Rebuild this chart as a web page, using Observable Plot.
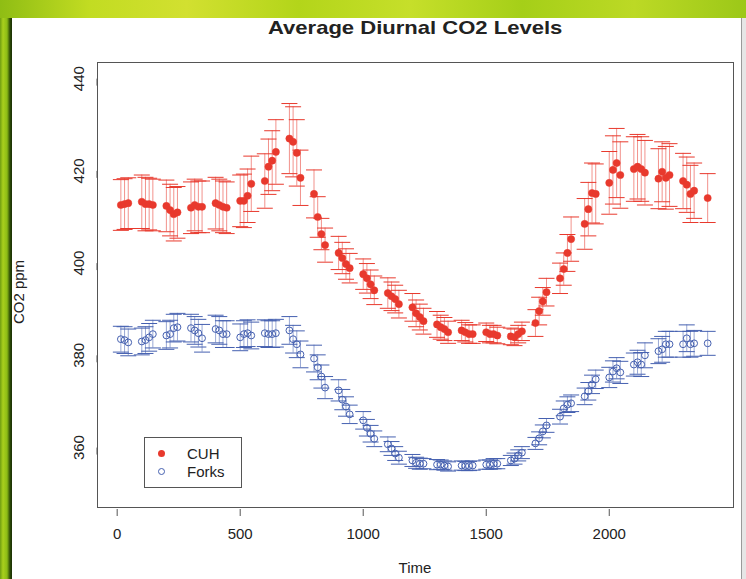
<!DOCTYPE html>
<html>
<head>
<meta charset="utf-8">
<script src="https://cdn.jsdelivr.net/npm/d3@7"></script>
<script src="https://cdn.jsdelivr.net/npm/@observablehq/plot@0.6"></script>
<style>
  html, body { margin: 0; padding: 0; }
  body { width: 746px; height: 579px; overflow: hidden; font-family: "Liberation Sans", Arial, sans-serif; }
  #page { position: relative; width: 746px; height: 579px;
    background: linear-gradient(90deg, #6f9e12 0px, #a9d01c 3px, #8cbc16 7px, #2c4a06 10px, #1a2e04 12px, #b7d61c 12px); }
  #topband { position: absolute; left: 0; top: 0; width: 746px; height: 18px;
    background: linear-gradient(90deg, #8fbd14 0%, #c2dc22 12%, #d2e030 25%, #b3d51a 40%, #c6df2a 55%, #a5cf18 70%, #bcd925 85%, #9cc818 100%); }
  #panel { position: absolute; left: 12px; top: 18px; width: 729px; height: 561px; background: #fff; border-right: 1px solid #9a9a9a; }
  #rightedge { position: absolute; left: 742px; top: 18px; width: 4px; height: 561px; background: #e6e6e6; }
  #title { position: absolute; left: 97px; width: 636px; top: 17px; text-align: center; font-weight: bold; font-size: 19px; color: #222; transform: scaleX(1.16); transform-origin: 317px 50%; }
  #chart { position: absolute; left: 0; top: 40px; }
  #xlabel { position: absolute; left: 97px; width: 636px; top: 559px; text-align: center; font-size: 15px; color: #222; }
  #ylabel { position: absolute; left: 18px; top: 292px; transform: translate(-50%, -50%) rotate(-90deg); font-size: 15px; color: #222; white-space: nowrap; }
  #legend { position: absolute; left: 144px; top: 437px; width: 96px; height: 49px; border: 1px solid #555; background: #fff; font-size: 15px; color: #222; }
  .item { position: absolute; left: 0; height: 18px; line-height: 18px; }
  .sym { position: absolute; left: 13px; top: 5px; width: 7px; height: 7px; border-radius: 50%; box-sizing: border-box; }
  .lab { position: absolute; left: 42px; top: 0; }
</style>
</head>
<body>
<div id="page">
  <div id="topband"></div>
  <div id="panel"></div>
  <div id="rightedge"></div>
  <div id="title">Average Diurnal CO2 Levels</div>
  <div id="chart"></div>
  <div id="xlabel">Time</div>
  <div id="ylabel">CO2 ppm</div>
  <div id="legend">
    <div class="item" style="top:7px"><span class="sym" style="background:#e8392d;"></span><span class="lab">CUH</span></div>
    <div class="item" style="top:25px"><span class="sym" style="border:1px solid #4560b0;"></span><span class="lab">Forks</span></div>
  </div>
</div>
<script>
// ---- data (time of day, HHMM) ----
const times = [15,30,45,
  100,115,130,145, 200,215,230,245, 300,315,330,345, 400,415,430,445,
  500,515,530,545, 600,615,630,645, 700,715,730,745, 800,815,830,845,
  900,915,930,945, 1000,1015,1030,1045, 1100,1115,1130,1145, 1200,1215,1230,1245,
  1300,1315,1330,1345, 1400,1415,1430,1445, 1500,1515,1530,1545, 1600,1615,1630,1645,
  1700,1715,1730,1745, 1800,1815,1830,1845, 1900,1915,1930,1945, 2000,2015,2030,2045,
  2100,2115,2130,2145, 2200,2215,2230,2245, 2300,2315,2330,2345, 2400];

const cuh = [412.6,412.8,413.0,
  413.3,412.8,412.8,412.6, 412.4,411.5,410.6,411.0, 412.0,412.6,412.2,412.2, 413.0,412.6,412.2,412.0,
  413.5,413.5,414.6,417.2, 417.8,420.9,422.2,424.1, 427.0,426.3,423.9,418.5, 415.0,410.0,406.3,403.9,
  402.2,401.1,399.8,398.9, 397.6,396.7,395.4,394.1, 393.5,392.8,392.2,391.1, 390.4,389.1,388.3,387.4,
  386.7,386.1,385.7,385.0, 385.4,385.0,384.6,384.6, 385.0,384.6,384.6,384.3, 384.1,383.9,384.6,385.2,
  387.0,389.6,391.7,393.7, 396.7,398.7,402.2,405.2, 408.5,411.7,415.2,415.0, 417.4,420.2,421.7,419.1,
  420.4,420.9,420.4,419.6, 418.3,419.8,418.5,419.1, 417.8,417.0,415.0,415.7, 414.1];

const cuhErr = [5.5,5.5,5.5,
  5.8,5.8,5.6,5.6, 5.6,5.6,5.8,5.6, 5.6,5.6,5.6,5.6, 5.6,5.6,5.6,5.6,
  5.6,5.8,5.8,6.0, 5.9,6.0,6.5,7.0, 7.6,7.6,7.2,6.0, 5.2,4.4,3.4,3.7,
  3.6,3.4,3.3,3.2, 3.3,3.2,3.1,3.1, 3.3,3.1,3.0,3.0, 3.0,2.9,2.8,2.8,
  2.8,2.6,2.5,2.4, 2.2,2.1,2.0,2.0, 2.0,1.9,1.9,1.8, 1.8,1.8,1.9,2.0,
  2.9,3.0,3.0,3.0, 3.3,3.5,4.0,4.8, 5.5,5.8,6.5,6.5, 6.8,7.4,7.5,7.2,
  7.0,7.0,7.0,7.0, 6.5,6.5,6.8,6.8, 6.0,6.0,6.2,6.0, 5.3];

const forks = [383.5,383.3,382.8,
  383.0,383.3,383.9,384.6, 384.3,384.6,385.9,386.1, 385.9,385.4,384.8,383.7, 385.7,385.4,384.6,384.6,
  383.9,384.6,384.8,384.3, 384.8,384.6,384.6,384.8, 385.4,383.5,382.4,380.2, 379.3,377.4,375.4,373.0,
  372.4,370.4,368.9,367.2, 365.9,364.3,363.0,361.9, 360.7,359.8,358.7,357.8, 357.2,356.7,356.5,356.5,
  356.3,356.3,356.1,355.9, 356.1,356.0,356.0,356.1, 356.3,356.3,356.5,356.5, 357.2,357.6,358.3,358.9,
  360.9,362.0,363.5,364.8, 366.7,368.5,369.3,369.6, 371.1,372.2,373.7,374.8, 375.2,376.5,377.2,376.3,
  378.0,378.5,378.0,380.0, 380.9,381.3,382.4,382.4, 382.4,383.7,382.4,382.6, 382.6];

const forksErr = [2.8,2.9,2.9,
  2.9,2.9,3.0,3.0, 3.0,3.0,3.0,3.0, 3.0,3.0,3.0,3.0, 3.0,3.0,2.9,2.9,
  2.9,2.9,2.9,2.9, 2.9,2.9,2.9,3.0, 3.0,3.0,2.9,2.9, 2.9,2.7,2.5,2.4,
  2.3,2.2,2.1,2.0, 1.9,1.8,1.8,1.7, 1.6,1.5,1.5,1.4, 1.3,1.2,1.2,1.1,
  1.1,1.0,1.0,1.0, 1.0,1.0,1.0,1.0, 1.0,1.0,1.1,1.1, 1.1,1.2,1.2,1.3,
  1.3,1.4,1.4,1.5, 1.6,1.6,1.7,1.8, 1.8,1.9,2.0,2.0, 2.2,2.3,2.3,2.4,
  2.5,2.6,2.6,2.7, 2.7,2.8,2.8,2.8, 2.8,2.9,2.8,2.8, 2.6];

const xTicks = [0, 500, 1000, 1500, 2000];
const yTicks = [360, 380, 400, 420, 440];

const RED = "#e8392d";
const BLUE = "#4560b0";

const rows = (vals, errs) => times.map((t, i) => ({t, v: vals[i], lo: vals[i] - errs[i], hi: vals[i] + errs[i]}));
const cuhRows = rows(cuh, cuhErr);
const forksRows = rows(forks, forksErr);

// horizontal cap symbol of fixed pixel width
const cap = { draw(ctx) { ctx.moveTo(-8, 0); ctx.lineTo(8, 0); } };

const errorMarks = (data, color) => [
  Plot.ruleX(data, {x: "t", y1: "lo", y2: "hi", stroke: color, strokeOpacity: 0.55, strokeWidth: 1}),
  Plot.dot(data, {x: "t", y: "lo", symbol: cap, r: 3, stroke: color, strokeWidth: 1}),
  Plot.dot(data, {x: "t", y: "hi", symbol: cap, r: 3, stroke: color, strokeWidth: 1})
];

const chart = Plot.plot({
  width: 746,
  height: 539,
  marginLeft: 97,
  marginRight: 13,
  marginTop: 22,
  marginBottom: 72,
  x: {domain: [-80, 2505]},
  y: {domain: [347, 443.5]},
  style: {fontFamily: "'Liberation Sans', Arial, sans-serif", fontSize: "15px", color: "#222", background: "transparent", overflow: "visible"},
  marks: [
    Plot.frame({stroke: "#555", strokeWidth: 1}),
    Plot.axisX({ticks: xTicks, tickSize: 7, tickPadding: 12, label: null, tickFormat: d => String(d), dy: 2, stroke: "#555"}),
    Plot.axisY({ticks: yTicks, tickSize: 7, tickPadding: 11, label: null, rotate: -90, textAnchor: "middle", tickFormat: d => String(d), stroke: "#555"}),
    ...errorMarks(cuhRows, RED),
    ...errorMarks(forksRows, BLUE),
    Plot.dot(cuhRows, {x: "t", y: "v", r: 3.6, fill: RED, stroke: RED, strokeWidth: 0.5}),
    Plot.dot(forksRows, {x: "t", y: "v", r: 3.4, fill: "white", fillOpacity: 0, stroke: BLUE, strokeWidth: 1})
  ]
});
document.getElementById("chart").appendChild(chart);
</script>
</body>
</html>
